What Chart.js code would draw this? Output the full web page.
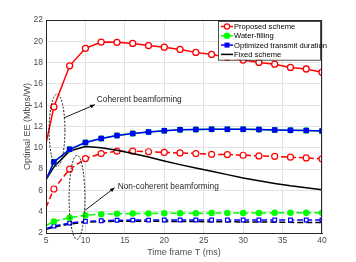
<!DOCTYPE html>
<html>
<head>
<meta charset="utf-8">
<script src="https://cdn.jsdelivr.net/npm/chart.js@4"></script>
<style>
  html, body { margin: 0; padding: 0; background: #fff; }
  #wrap { width: 356px; height: 262px; }
</style>
</head>
<body>
<div id="wrap"><canvas id="EEChart"></canvas></div>
<script>
// time frame T (ms)
var frameT = [5, 6, 8, 10, 12, 14, 16, 18, 20, 22, 24, 26, 28, 30, 32, 34, 36, 38, 40];
var xTicks = [5, 10, 15, 20, 25, 30, 35, 40];
var yTicks = [2, 4, 6, 8, 10, 12, 14, 16, 18, 20, 22];

// coherent beamforming
var proposedCoh = [10.4, 13.84, 17.7, 19.34, 19.93, 19.9, 19.8, 19.6, 19.45, 19.24, 18.96, 18.77, 18.5, 18.24, 18.02, 17.85, 17.55, 17.4, 17.1];
var waterCoh    = [7.0, 8.67, 9.86, 10.5, 10.87, 11.15, 11.34, 11.48, 11.6, 11.7, 11.72, 11.74, 11.75, 11.74, 11.72, 11.68, 11.65, 11.62, 11.58];
var optCoh      = [7.0, 8.67, 9.86, 10.5, 10.87, 11.15, 11.34, 11.48, 11.6, 11.7, 11.72, 11.74, 11.75, 11.74, 11.72, 11.68, 11.65, 11.62, 11.58];
var fixedCoh    = [7.0, 8.2, 9.7, 10.12, 10.0, 9.77, 9.46, 9.14, 8.77, 8.42, 8.1, 7.8, 7.48, 7.17, 6.9, 6.65, 6.43, 6.25, 6.07];

// non-coherent beamforming
var proposedNon = [4.4, 6.13, 8.0, 8.99, 9.46, 9.68, 9.68, 9.63, 9.57, 9.52, 9.46, 9.39, 9.36, 9.3, 9.24, 9.2, 9.12, 9.05, 8.96];
var waterNon    = [2.7, 3.09, 3.44, 3.66, 3.77, 3.8, 3.82, 3.84, 3.85, 3.86, 3.86, 3.87, 3.87, 3.88, 3.88, 3.89, 3.89, 3.9, 3.9];
var optNon      = [2.4, 2.65, 2.93, 3.1, 3.15, 3.2, 3.21, 3.21, 3.22, 3.22, 3.22, 3.22, 3.22, 3.22, 3.22, 3.22, 3.22, 3.22, 3.22];
var fixedNon    = [2.35, 2.55, 2.85, 3.02, 3.08, 3.1, 3.1, 3.1, 3.09, 3.08, 3.07, 3.06, 3.05, 3.04, 3.03, 3.02, 3.0, 2.99, 2.98];

function pts(ys) {
  return frameT.map(function (t, i) { return { x: t, y: ys[i] }; });
}
// no marker on the first point (T = 5)
function rad(r) {
  return frameT.map(function (t, i) { return i === 0 ? 0 : r; });
}

var FONT = "'Liberation Sans', Arial, sans-serif";

var datasets = [
  { label: 'Water-filling', data: pts(waterCoh), borderColor: '#00ff00', backgroundColor: '#00ff00',
    borderWidth: 1.5, pointStyle: 'circle', pointRadius: rad(2.5), legend: true, order: 3 },
  { label: 'Optimized transmit duration', data: pts(optCoh), borderColor: '#0000ff', backgroundColor: '#0000ff',
    borderWidth: 1.5, pointStyle: 'rect', pointRadius: rad(2.8), legend: true, order: 2 },
  { label: 'Fixed scheme', data: pts(fixedCoh), borderColor: '#000000', backgroundColor: '#000000',
    borderWidth: 1.5, pointRadius: 0, legend: true, order: 4 },
  { label: 'Proposed scheme', data: pts(proposedCoh), borderColor: '#ff0000', backgroundColor: '#ffffff',
    borderWidth: 1.5, pointStyle: 'circle', pointRadius: rad(3), pointBorderWidth: 1.3, legend: true, order: 1 },
  { label: 'Proposed (non-coherent)', data: pts(proposedNon), borderColor: '#ff0000', backgroundColor: '#ffffff',
    borderWidth: 1.5, borderDash: [6, 3], pointStyle: 'circle', pointRadius: rad(3), pointBorderWidth: 1.2, order: 5 },
  { label: 'Water-filling (non-coherent)', data: pts(waterNon), borderColor: '#00ff00', backgroundColor: '#00ff00',
    borderWidth: 1.5, borderDash: [6, 3], pointStyle: 'circle', pointRadius: rad(2.5), order: 6 },
  { label: 'Fixed (non-coherent)', data: pts(fixedNon), borderColor: '#000000', backgroundColor: '#000000',
    borderWidth: 1.5, borderDash: [6, 3], pointRadius: 0, order: 8 },
  { label: 'Optimized (non-coherent)', data: pts(optNon), borderColor: '#0000ff', backgroundColor: '#ffffff',
    borderWidth: 1.5, borderDash: [6, 3], pointStyle: 'rect', pointRadius: rad(2.6), pointBorderWidth: 1.2, order: 7 }
];
datasets.forEach(function (d) { d.fill = false; d.tension = 0; });

var decorPlugin = {
  id: 'decor',
  afterDatasetsDraw: function (chart) {
    var ctx = chart.ctx, a = chart.chartArea;
    var xs = chart.scales.x, ys = chart.scales.y;
    function X(v) { return xs.getPixelForValue(v); }
    function Y(v) { return ys.getPixelForValue(v); }
    ctx.save();

    // box around the axes
    ctx.strokeStyle = '#262626';
    ctx.lineWidth = 1;
    ctx.strokeRect(a.left + 0.5, a.top + 0.5, a.right - a.left - 1, a.bottom - a.top);

    // ellipses
    ctx.strokeStyle = '#000';
    ctx.lineWidth = 0.9;
    ctx.setLineDash([2, 1.5]);
    [[6.4, 11.65, 1.0, 3.4], [8.93, 5.35, 1.0, 3.95]].forEach(function (e) {
      var cx = X(e[0]), cy = Y(e[1]);
      var rx = X(e[0] + e[2]) - cx, ry = cy - Y(e[1] + e[3]);
      ctx.beginPath();
      ctx.ellipse(cx, cy, rx, ry, 0, 0, Math.PI * 2);
      ctx.stroke();
    });
    ctx.setLineDash([]);

    // arrows
    function arrow(x0, y0, x1, y1) {
      var px0 = X(x0), py0 = Y(y0), px1 = X(x1), py1 = Y(y1);
      var ang = Math.atan2(py1 - py0, px1 - px0);
      ctx.beginPath();
      ctx.moveTo(px0, py0);
      ctx.lineTo(px1, py1);
      ctx.stroke();
      ctx.beginPath();
      ctx.moveTo(px1, py1);
      ctx.lineTo(px1 - 5 * Math.cos(ang - 0.4), py1 - 5 * Math.sin(ang - 0.4));
      ctx.lineTo(px1 - 5 * Math.cos(ang + 0.4), py1 - 5 * Math.sin(ang + 0.4));
      ctx.closePath();
      ctx.fillStyle = '#000';
      ctx.fill();
    }
    ctx.lineWidth = 0.9;
    arrow(7.25, 12.8, 11.2, 14.05);
    arrow(9.9, 4.1, 13.7, 6.25);

    ctx.fillStyle = '#262626';
    ctx.font = '8.3px ' + FONT;
    ctx.textBaseline = 'middle';
    ctx.textAlign = 'left';
    ctx.fillText('Coherent beamforming', X(11.45), Y(14.47));
    ctx.fillText('Non-coherent beamforming', X(14.1), Y(6.38));

    // legend box, top right inside the axes
    var items = chart.data.datasets.map(function (d, i) { return i; })
      .filter(function (i) { return chart.data.datasets[i].legend; });
    var order = ['Proposed scheme', 'Water-filling', 'Optimized transmit duration', 'Fixed scheme'];
    items.sort(function (p, q) {
      return order.indexOf(chart.data.datasets[p].label) - order.indexOf(chart.data.datasets[q].label);
    });
    ctx.font = '7.6px ' + FONT;
    var lx = 218, ly = 21, lw = 102, rowH = 9.3;
    var lh = rowH * items.length + 1.5;
    ctx.fillStyle = '#fff';
    ctx.fillRect(lx, ly, lw, lh);
    ctx.strokeStyle = '#262626';
    ctx.lineWidth = 0.8;
    ctx.strokeRect(lx + 0.5, ly + 0.5, lw, lh);
    items.forEach(function (i, k) {
      var d = chart.data.datasets[i];
      var yy = ly + 5.5 + k * rowH;
      ctx.strokeStyle = d.borderColor;
      ctx.lineWidth = 1.5;
      ctx.beginPath();
      ctx.moveTo(lx + 3, yy);
      ctx.lineTo(lx + 15, yy);
      ctx.stroke();
      var mx = lx + 9;
      if (d.pointStyle === 'circle') {
        ctx.beginPath();
        ctx.arc(mx, yy, 2.6, 0, Math.PI * 2);
        ctx.fillStyle = d.backgroundColor;
        ctx.fill();
        ctx.lineWidth = 1.2;
        ctx.stroke();
      } else if (d.pointStyle === 'rect') {
        ctx.fillStyle = d.backgroundColor;
        ctx.fillRect(mx - 2.5, yy - 2.5, 5, 5);
      }
      ctx.fillStyle = '#000';
      ctx.fillText(d.label, lx + 16, yy + 0.5);
    });
    ctx.restore();
  }
};

var ctx = document.getElementById('EEChart');
var eeChart = new Chart(ctx, {
  type: 'line',
  data: { datasets: datasets },
  options: {
    responsive: true,
    maintainAspectRatio: false,
    animation: false,
    layout: { padding: { left: 20, right: 34, top: 20, bottom: 0 } },
    plugins: { legend: { display: false }, tooltip: { enabled: false } },
    scales: {
      x: {
        type: 'linear', min: 5, max: 40,
        afterBuildTicks: function (s) { s.ticks = xTicks.map(function (v) { return { value: v }; }); },
        afterFit: function (s) { s.height = 29; },
        grid: { color: '#e3e3e3', drawTicks: false },
        border: { color: '#262626' },
        ticks: { color: '#4d4d4d', font: { size: 8.5, family: FONT }, padding: 3, maxRotation: 0 },
        title: { display: true, text: 'Time frame T (ms)', color: '#4d4d4d', font: { size: 9, family: FONT }, padding: { top: 0 } }
      },
      y: {
        type: 'linear', min: 2, max: 22,
        afterBuildTicks: function (s) { s.ticks = yTicks.map(function (v) { return { value: v }; }); },
        afterFit: function (s) { s.width = 26; },
        grid: { color: '#e3e3e3', drawTicks: false },
        border: { color: '#262626' },
        ticks: { color: '#4d4d4d', font: { size: 8.5, family: FONT }, padding: 3 },
        title: { display: true, text: 'Optimal EE (Mbps/W)', color: '#4d4d4d', font: { size: 9, family: FONT }, padding: { top: 2, bottom: 0 } }
      }
    }
  },
  plugins: [decorPlugin]
});
</script>
</body>
</html>
